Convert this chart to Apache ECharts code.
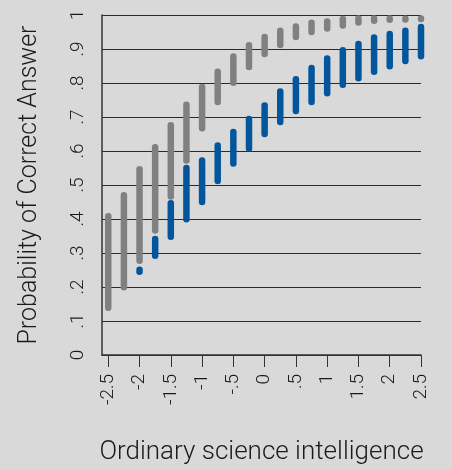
<!DOCTYPE html>
<html>
<head>
<meta charset="utf-8">
<script src="https://cdn.jsdelivr.net/npm/echarts@6/dist/echarts.min.js"></script>
<style>
  html, body { margin: 0; padding: 0; background: #d9d9d9; }
  #chart { width: 452px; height: 470px; }
</style>
</head>
<body>
<div id="chart"></div>
<script>
// Ordinary science intelligence levels (x positions of the interval bars)
const scoreLevels = [-2.5, -2.25, -2.0, -1.75, -1.5, -1.25, -1.0, -0.75, -0.5, -0.25,
  0, 0.25, 0.5, 0.75, 1.0, 1.25, 1.5, 1.75, 2.0, 2.25, 2.5];

// Grey intervals: lower and upper bound of the predicted probability
const greyLow  = [0.139, 0.199, 0.277, 0.366, 0.466, 0.572, 0.667, 0.744, 0.801, 0.847,
  0.885, 0.912, 0.935, 0.950, 0.960, 0.969, 0.978, 0.983, 0.986, 0.987, 0.988];
const greyHigh = [0.408, 0.470, 0.546, 0.611, 0.676, 0.736, 0.788, 0.833, 0.878, 0.911,
  0.935, 0.954, 0.966, 0.977, 0.981, 0.988, 0.990, 0.990, 0.990, 0.989, 0.990];

// Blue intervals (no estimate at the two lowest levels)
const blueLow  = [null, null, 0.245, 0.292, 0.348, 0.399, 0.450, 0.512, 0.563, 0.607,
  0.650, 0.685, 0.718, 0.744, 0.770, 0.795, 0.814, 0.833, 0.849, 0.865, 0.879];
const blueHigh = [null, null, 0.251, 0.341, 0.446, 0.550, 0.572, 0.616, 0.656, 0.694,
  0.734, 0.775, 0.811, 0.844, 0.872, 0.896, 0.915, 0.934, 0.944, 0.954, 0.965];

// Axis ticks
const xTicks = [-2.5, -2, -1.5, -1, -0.5, 0, 0.5, 1, 1.5, 2, 2.5];

const FONT = 'Roboto';
const GREY = '#808080';
const BLUE = '#03569c';

function rows(lo, hi) {
  const out = [];
  scoreLevels.forEach((x, i) => {
    if (lo[i] != null && hi[i] != null) out.push([x, lo[i], hi[i]]);
  });
  return out;
}

function stripZero(v) {
  const r = Math.round(v * 100) / 100;
  return String(r).replace(/^(-?)0\./, '$1.');
}

function intervalRenderer(color) {
  return function (params, api) {
    const a = api.coord([api.value(0), api.value(1)]);
    const b = api.coord([api.value(0), api.value(2)]);
    return {
      type: 'line',
      shape: { x1: a[0], y1: a[1], x2: b[0], y2: b[1] },
      style: { stroke: color, lineWidth: 6.5, lineCap: 'round' }
    };
  };
}

const chart = echarts.init(document.getElementById('chart'), null, { renderer: 'canvas' });

chart.setOption({
  backgroundColor: '#d9d9d9',
  animation: false,
  grid: { left: 102, right: 31, top: 15, bottom: 110, containLabel: false },
  xAxis: {
    type: 'value',
    min: -2.6,
    max: 2.5,
    name: 'Ordinary science intelligence',
    nameLocation: 'middle',
    nameGap: 84,
    nameTextStyle: { fontFamily: FONT, fontWeight: 300, fontSize: 26, color: '#1a1a1a' },
    axisLine: { show: true, onZero: false, lineStyle: { color: '#333', width: 1.5 } },
    axisTick: { show: true, length: 12, customValues: xTicks, lineStyle: { color: '#333', width: 1 } },
    axisLabel: {
      customValues: xTicks,
      rotate: 90,
      margin: 19,
      fontFamily: FONT,
      fontWeight: 300,
      fontSize: 19,
      color: '#1a1a1a',
      formatter: stripZero
    },
    splitLine: { show: false }
  },
  yAxis: {
    type: 'value',
    min: 0,
    max: 1,
    interval: 0.1,
    name: 'Probability of Correct Answer',
    nameLocation: 'middle',
    nameRotate: 90,
    nameGap: 60,
    nameTextStyle: { fontFamily: FONT, fontWeight: 300, fontSize: 25, color: '#1a1a1a' },
    axisLine: { show: true, onZero: false, lineStyle: { color: '#333', width: 1.5 } },
    axisTick: { show: false },
    axisLabel: {
      rotate: 90,
      margin: 14,
      fontFamily: FONT,
      fontWeight: 300,
      fontSize: 19,
      color: '#1a1a1a',
      formatter: stripZero
    },
    splitLine: { show: true, lineStyle: { color: '#2a2a2a', width: 1.2 } }
  },
  series: [
    {
      name: 'grey',
      type: 'custom',
      clip: false,
      renderItem: intervalRenderer(GREY),
      encode: { x: 0, y: [1, 2] },
      data: rows(greyLow, greyHigh)
    },
    {
      name: 'blue',
      type: 'custom',
      clip: false,
      renderItem: intervalRenderer(BLUE),
      encode: { x: 0, y: [1, 2] },
      data: rows(blueLow, blueHigh)
    }
  ]
});
</script>
</body>
</html>
